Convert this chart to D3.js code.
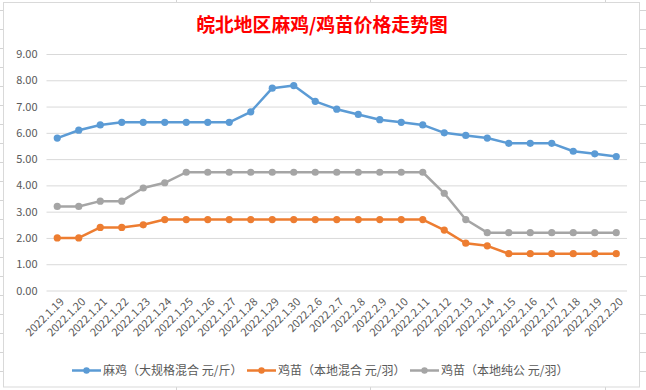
<!DOCTYPE html>
<html><head><meta charset="utf-8">
<script src="https://cdn.jsdelivr.net/npm/d3@7/dist/d3.min.js"></script>
<style>
html,body{margin:0;padding:0;background:#fff;}
svg{display:block;}
</style></head>
<body>
<svg id="chart" width="646" height="390"></svg>
<script>
const title = "皖北地区麻鸡/鸡苗价格走势图";
const categories = ["2022.1.19","2022.1.20","2022.1.21","2022.1.22","2022.1.23","2022.1.24","2022.1.25","2022.1.26","2022.1.27","2022.1.28","2022.1.29","2022.1.30","2022.2.6","2022.2.7","2022.2.8","2022.2.9","2022.2.10","2022.2.11","2022.2.12","2022.2.13","2022.2.14","2022.2.15","2022.2.16","2022.2.17","2022.2.18","2022.2.19","2022.2.20"];
const seriesNames = ["麻鸡（大规格混合 元/斤）","鸡苗（本地混合 元/羽）","鸡苗（本地纯公 元/羽）"];
const maji = [5.8,6.1,6.3,6.4,6.4,6.4,6.4,6.4,6.4,6.8,7.7,7.8,7.2,6.9,6.7,6.5,6.4,6.3,6.0,5.9,5.8,5.6,5.6,5.6,5.3,5.2,5.1];
const jimiaoMix = [2.0,2.0,2.4,2.4,2.5,2.7,2.7,2.7,2.7,2.7,2.7,2.7,2.7,2.7,2.7,2.7,2.7,2.7,2.3,1.8,1.7,1.4,1.4,1.4,1.4,1.4,1.4];
const jimiaoMale = [3.2,3.2,3.4,3.4,3.9,4.1,4.5,4.5,4.5,4.5,4.5,4.5,4.5,4.5,4.5,4.5,4.5,4.5,3.7,2.7,2.2,2.2,2.2,2.2,2.2,2.2,2.2];
const yTicks = [0,1,2,3,4,5,6,7,8,9];
const colors = ["#5B9BD5","#ED7D31","#A5A5A5"];

const series = [maji, jimiaoMix, jimiaoMale];
const svg = d3.select("#chart");
const font = "'Noto Sans CJK SC','Noto Sans',sans-serif";

// spreadsheet background lines
const bg = svg.append("g").attr("stroke","#D4D4D4").attr("stroke-width",1);
for (let y = 10.5; y < 390; y += 19) {
  bg.append("line").attr("x1",0).attr("x2",3).attr("y1",y).attr("y2",y);
  bg.append("line").attr("x1",640).attr("x2",646).attr("y1",y).attr("y2",y);
}
[176.5,370.5,605.5].forEach(x=>{
  bg.append("line").attr("x1",x).attr("x2",x).attr("y1",0).attr("y2",2);
  bg.append("line").attr("x1",x).attr("x2",x).attr("y1",387).attr("y2",390);
});

// chart area border
svg.append("rect").attr("x",3.5).attr("y",2.5).attr("width",636).attr("height",384.5)
  .attr("fill","#fff").attr("stroke","#D9D9D9").attr("stroke-width",1);

const x = d3.scalePoint().domain(categories).range([46.5,627]).padding(0.5);
const y = d3.scaleLinear().domain([0,9]).range([290.5,54]);

// title
svg.append("text").attr("x",322).attr("y",31.5).attr("text-anchor","middle")
  .attr("font-family","'Noto Sans CJK SC',serif").attr("font-weight","bold")
  .attr("font-size",18.8).attr("fill","#FF0000").text(title);

// gridlines
const yAxis = d3.axisLeft(y).tickValues(yTicks).tickFormat(d3.format(".2f")).tickSize(-(627-46.5)).tickPadding(9);
const gy = svg.append("g").attr("transform","translate(46.5,0)").call(yAxis);
gy.select(".domain").remove();
gy.selectAll(".tick line").attr("stroke","#D9D9D9").attr("stroke-width",1);
gy.selectAll(".tick text").attr("fill","#595959").attr("font-family",font).attr("font-size",11);

// x labels
const xAxis = d3.axisBottom(x).tickSize(0);
const gx = svg.append("g").attr("transform","translate(0,290.5)").call(xAxis);
gx.select(".domain").remove();
gx.selectAll(".tick text")
  .attr("fill","#595959").attr("font-family",font).attr("font-size",11)
  .attr("text-anchor","end").attr("dy",null).attr("y",0)
  .attr("transform","translate(7,12) rotate(-45)");

// lines
const line = d3.line().x((d,i)=>x(categories[i])).y(d=>y(d));
series.forEach((s,k)=>{
  svg.append("path").datum(s).attr("d",line).attr("fill","none")
    .attr("stroke",colors[k]).attr("stroke-width",2.5).attr("stroke-linejoin","round");
  svg.append("g").selectAll("circle").data(s).join("circle")
    .attr("cx",(d,i)=>x(categories[i])).attr("cy",d=>y(d)).attr("r",3.6)
    .attr("fill",colors[k]);
});

// legend
const legendX = [72, 247, 410];
const leg = svg.append("g");
seriesNames.forEach((name,k)=>{
  const g = leg.append("g").attr("transform",`translate(${legendX[k]},370.5)`);
  g.append("line").attr("x1",0).attr("x2",29).attr("y1",0).attr("y2",0)
    .attr("stroke",colors[k]).attr("stroke-width",2.5);
  g.append("circle").attr("cx",14.5).attr("cy",0).attr("r",3.2).attr("fill",colors[k]);
  g.append("text").attr("x",31).attr("y",4.5).attr("fill","#595959")
    .attr("font-family",font).attr("font-size",12).text(name);
});
</script>
</body></html>
